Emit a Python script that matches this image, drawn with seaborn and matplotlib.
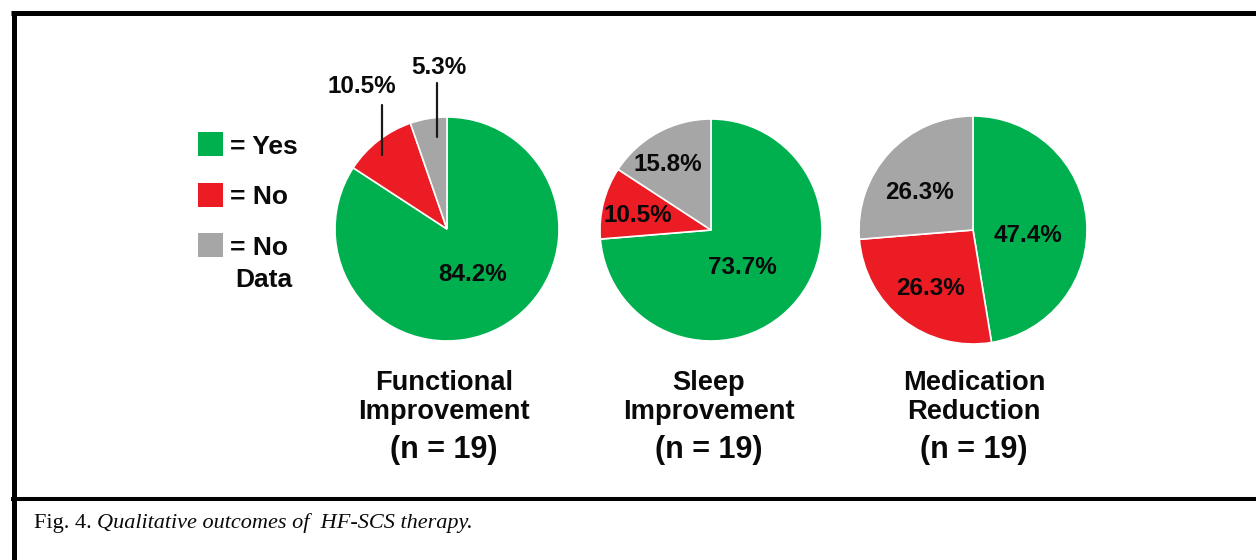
import matplotlib.pyplot as plt
import seaborn as sns
from matplotlib.patches import Rectangle

# data
categories = ["Yes", "No", "No Data"]
functional = [84.2, 10.5, 5.3]
sleep = [73.7, 10.5, 15.8]
medication = [47.4, 26.3, 26.3]
titles = ["Functional\nImprovement", "Sleep\nImprovement", "Medication\nReduction"]
n_label = "(n = 19)"
legend_text = ["= Yes", "= No", "= No\nData"]

sns.set_theme(style="white")
plt.rcParams['font.family'] = ['Liberation Sans', 'DejaVu Sans']
plt.rcParams['text.color'] = '#0a0a0a'
colors = sns.color_palette(["#00b04f", "#ec1c24", "#a6a6a6"])

W, H = 1256, 560
fig = plt.figure(figsize=(W / 100, H / 100), dpi=100)
bg = fig.add_axes([0, 0, 1, 1])
bg.set_xlim(0, W)
bg.set_ylim(H, 0)
bg.axis('off')

# frame lines
bg.plot([11, W], [12.5, 12.5], color='black', lw=3.6, solid_capstyle='butt')
bg.plot([13.5, 13.5], [10.5, H], color='black', lw=3.6, solid_capstyle='butt')
bg.plot([11, W], [498.5, 498.5], color='black', lw=2.9, solid_capstyle='butt')

# pie layout: (values, center x, center y, radius px, label spots in radius units, title x)
pies = [
    (functional, 447, 229, 112, [(0.23, -0.41), (-0.76, 1.27), (-0.07, 1.44)], 444),
    (sleep, 711, 230, 111, [(0.28, -0.34), (-0.66, 0.13), (-0.39, 0.59)], 709),
    (medication, 973, 230, 114, [(0.48, -0.05), (-0.37, -0.51), (-0.47, 0.33)], 974),
]

for i, (vals, cx, cy, r, spots, tx) in enumerate(pies):
    ax = fig.add_axes([(cx - r) / W, 1 - (cy + r) / H, 2 * r / W, 2 * r / H])
    ax.pie(vals, colors=colors, startangle=90, counterclock=False, radius=1,
           wedgeprops=dict(edgecolor='white', linewidth=1.2))
    ax.set_xlim(-1, 1)
    ax.set_ylim(-1, 1)
    ax.set_aspect('equal')
    ax.axis('off')
    for v, (lx, ly) in zip(vals, spots):
        ax.text(lx, ly, f"{v:.1f}%", ha='center', va='center', fontsize=17.5,
                fontweight='bold', clip_on=False)
    if i == 0:
        # leader lines for the small slices
        ax.plot([-0.58, -0.58], [1.11, 0.66], color='#1a1a1a', lw=1.6, clip_on=False)
        ax.plot([-0.09, -0.09], [1.30, 0.82], color='#1a1a1a', lw=1.6, clip_on=False)
    l1, l2 = titles[i].split("\n")
    bg.text(tx, 390, l1, ha='center', va='baseline', fontsize=19.6, fontweight='bold')
    bg.text(tx, 419, l2, ha='center', va='baseline', fontsize=19.6, fontweight='bold')
    bg.text(tx, 458, n_label, ha='center', va='baseline', fontsize=22, fontweight='bold')

# legend
sq_y = [132, 183, 233]
txt_y = [154, 204, 255]
for c, t, sy, ty in zip(colors, legend_text, sq_y, txt_y):
    bg.add_patch(Rectangle((198, sy), 25, 24, facecolor=c, edgecolor='none'))
    lines = t.split("\n")
    bg.text(230, ty, lines[0], ha='left', va='baseline', fontsize=19, fontweight='bold')
    if len(lines) > 1:
        bg.text(264, ty + 32, lines[1], ha='center', va='baseline', fontsize=19,
                fontweight='bold')

# caption
t1 = bg.text(34, 528, "Fig. 4.", ha='left', va='baseline', fontsize=16,
             family='Liberation Serif')
bg.annotate("Qualitative outcomes of  HF-SCS therapy.", xy=(1, 0), xycoords=t1,
            xytext=(4, 0), textcoords='offset points', ha='left', va='bottom',
            fontsize=16, family='Liberation Serif', style='italic')

fig.savefig("out.png", dpi=100)
